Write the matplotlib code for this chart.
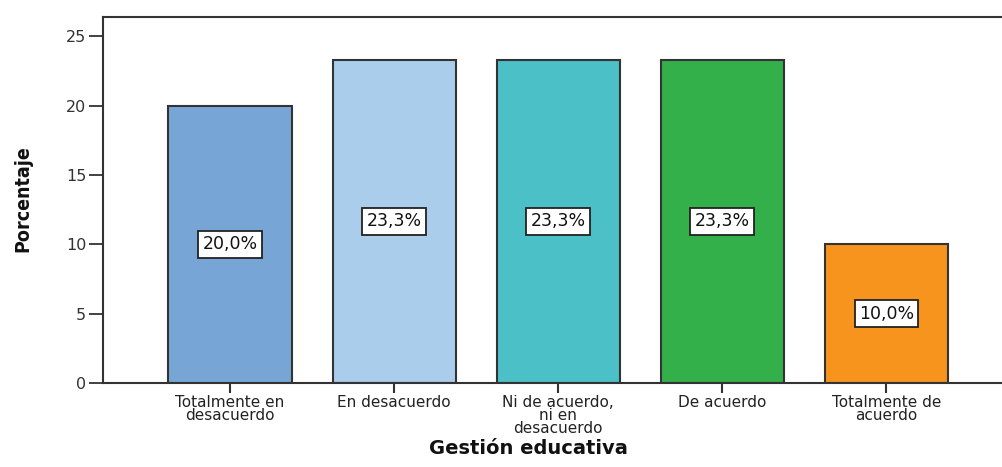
import numpy as np
import matplotlib.pyplot as plt

# Datos
categorias = ["Totalmente en\ndesacuerdo", "En desacuerdo", "Ni de acuerdo,\nni en\ndesacuerdo",
              "De acuerdo", "Totalmente de\nacuerdo"]
porcentajes = [20.0, 23.3, 23.3, 23.3, 10.0]
etiquetas = ["20,0%", "23,3%", "23,3%", "23,3%", "10,0%"]
colores = ["#77a6d6", "#a9cdeb", "#4bc0c6", "#33b04a", "#f7941d"]

plt.rcParams['font.family'] = ['DejaVu Sans']

fig = plt.figure(figsize=(10.03, 4.67), dpi=100)
ax = fig.add_axes([0.1027, 0.180, 0.8973, 0.7836])

x = np.arange(len(categorias))
ax.bar(x, porcentajes, width=0.75, color=colores, edgecolor="#333333", linewidth=1.5, zorder=2)

# etiquetas de porcentaje en la mitad de cada barra
for xi, v, t in zip(x, porcentajes, etiquetas):
    ax.text(xi, v / 2, t, ha="center", va="center", fontsize=12.5, color="#111111",
            bbox=dict(boxstyle="square,pad=0.25", facecolor="white", edgecolor="#222222", linewidth=1.3),
            zorder=3)

ax.set_xlim(-0.774, 4.71)
ax.set_ylim(0, 26.4)
ax.set_yticks([0, 5, 10, 15, 20, 25])
ax.set_xticks(x)
ax.set_xticklabels(categorias, fontsize=11, linespacing=0.8)
ax.tick_params(axis="y", length=10, width=1.3, labelsize=11.5, colors="#333333", labelcolor="#333333", pad=2)
ax.tick_params(axis="x", length=7, width=1.5, colors="#333333", labelcolor="#222222", pad=2)

for s in ["left", "bottom", "top"]:
    ax.spines[s].set_linewidth(1.5)
    ax.spines[s].set_color("#333333")
ax.spines["right"].set_visible(False)

fig.text(23 / 1003, 1 - 199 / 467, "Porcentaje", rotation=90, ha="center", va="center",
         fontsize=14, fontweight="bold", fontstretch="condensed", color="#111111")
fig.text(528 / 1003, 1 - 448 / 467, "Gestión educativa", ha="center", va="center",
         fontsize=14, fontweight="bold", color="#111111")

fig.savefig("out.png", dpi=100)
